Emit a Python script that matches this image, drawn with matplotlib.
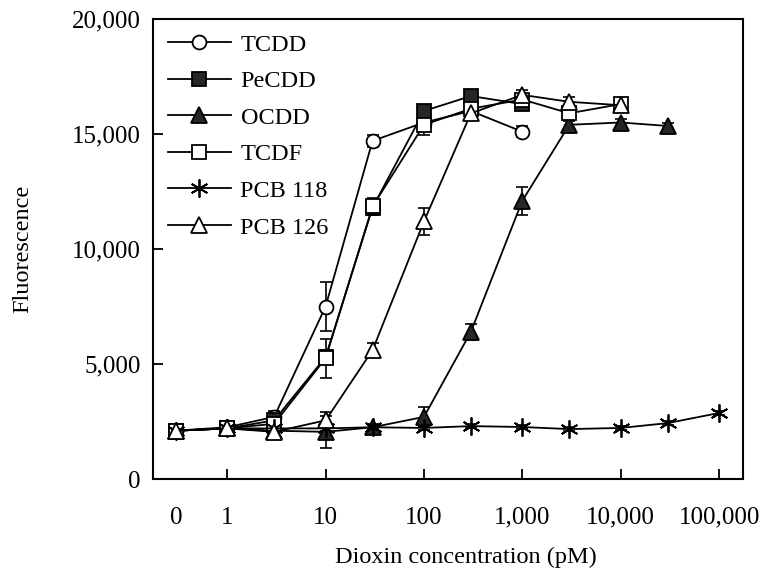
import matplotlib
matplotlib.use('Agg')
import matplotlib.pyplot as plt
from matplotlib.ticker import FuncFormatter

plt.rcParams['font.family'] = ['Liberation Serif', 'DejaVu Serif']

# "0" concentration is drawn at 0.3 on the log axis
zero_pos = 0.3

# concentrations (pM)
conc_tcdd = [zero_pos, 1, 3, 10, 30, 100, 300, 1000]
conc_pecdd = [zero_pos, 1, 3, 10, 30, 100, 300, 1000]
conc_ocdd = [zero_pos, 1, 3, 10, 30, 100, 300, 1000, 3000, 10000, 30000]
conc_tcdf = [zero_pos, 1, 3, 10, 30, 100, 300, 1000, 3000, 10000]
conc_pcb118 = [zero_pos, 1, 3, 10, 30, 100, 300, 1000, 3000, 10000, 30000, 100000]
conc_pcb126 = [zero_pos, 1, 3, 10, 30, 100, 300, 1000, 3000, 10000]

# fluorescence
fl_tcdd = [2100, 2250, 2700, 7500, 14700, 15500, 16000, 15100]
fl_pecdd = [2100, 2200, 2550, 5300, 11800, 16000, 16650, 16300]
fl_ocdd = [2100, 2200, 2100, 2050, 2250, 2700, 6400, 12100, 15400, 15500, 15350]
fl_tcdf = [2100, 2200, 2400, 5250, 11850, 15400, 16100, 16500, 15900, 16300]
fl_pcb118 = [2100, 2200, 2200, 2200, 2250, 2220, 2300, 2260, 2170, 2220, 2430, 2870]
fl_pcb126 = [2100, 2200, 2050, 2550, 5600, 11200, 15900, 16700, 16400, 16250]

# error bars
err_tcdd = [100, 100, 250, 1050, 250, 200, 200, 250]
err_pecdd = [100, 100, 150, 300, 300, 250, 200, 200]
err_ocdd = [100, 100, 150, 700, 150, 450, 350, 600, 150, 150, 150]
err_tcdf = [100, 100, 300, 850, 350, 450, 200, 200, 200, 200]
err_pcb118 = [100, 100, 100, 100, 100, 100, 100, 100, 100, 100, 100, 100]
err_pcb126 = [100, 100, 300, 350, 300, 600, 200, 200, 200, 200]

x_ticks = [zero_pos, 1, 10, 100, 1000, 10000, 100000]
x_tick_labels = ['0', '1', '10', '100', '1,000', '10,000', '100,000']
y_ticks = [0, 5000, 10000, 15000, 20000]

dark = '#262626'

fig = plt.figure(figsize=(7.68, 5.76), dpi=100)
ax = fig.add_axes([153 / 768, 1 - 479 / 576, 590 / 768, 460 / 576])

series = [
    ('TCDD', conc_tcdd, fl_tcdd, err_tcdd, 'o', 'white', 10),
    ('PeCDD', conc_pecdd, fl_pecdd, err_pecdd, 's', dark, 10),
    ('OCDD', conc_ocdd, fl_ocdd, err_ocdd, '^', dark, 11),
    ('TCDF', conc_tcdf, fl_tcdf, err_tcdf, 's', 'white', 10),
    ('PCB 118', conc_pcb118, fl_pcb118, err_pcb118, (6, 2, 0), 'none', 13),
    ('PCB 126', conc_pcb126, fl_pcb126, err_pcb126, '^', 'white', 11),
]

for name, xs, ys, es, mk, fc, ms in series:
    ax.errorbar(xs, ys, yerr=es, fmt='none', ecolor='black', elinewidth=1.2,
                capsize=4, capthick=1.2, zorder=2)
    ax.plot(xs, ys, color='black', lw=1.3, marker=mk, markersize=ms,
            markerfacecolor=fc, markeredgecolor='black', markeredgewidth=1.3,
            label=name, zorder=3)

ax.set_xscale('log')
ax.set_xlim(0.176, 175000)
ax.set_ylim(0, 20000)
ax.set_xticks(x_ticks)
ax.set_xticklabels(x_tick_labels)
ax.minorticks_off()
ax.set_yticks(y_ticks)
ax.yaxis.set_major_formatter(FuncFormatter(lambda v, p: f'{int(v):,}'))

ax.tick_params(axis='x', direction='in', length=7, width=1.3, pad=20,
               labelsize=18, top=False)
ax.tick_params(axis='y', direction='in', length=7, width=1.3, pad=9,
               labelsize=18, right=False)
ax.xaxis.get_major_ticks()[0].tick1line.set_visible(False)

for sp in ax.spines.values():
    sp.set_linewidth(1.5)

ax.set_xlabel('Dioxin concentration (pM)', fontsize=17.5)
ax.set_ylabel('Fluorescence', fontsize=17.5)
ax.xaxis.set_label_coords(0.53, -0.148)
ax.yaxis.set_label_coords(-0.203, 0.5)

ax.legend(loc='upper left', frameon=False, fontsize=17.5, handlelength=2.6,
          handletextpad=0.4, labelspacing=0.6, borderaxespad=0.2,
          bbox_to_anchor=(0.0, 1.0))

fig.savefig('out.png', dpi=100)
